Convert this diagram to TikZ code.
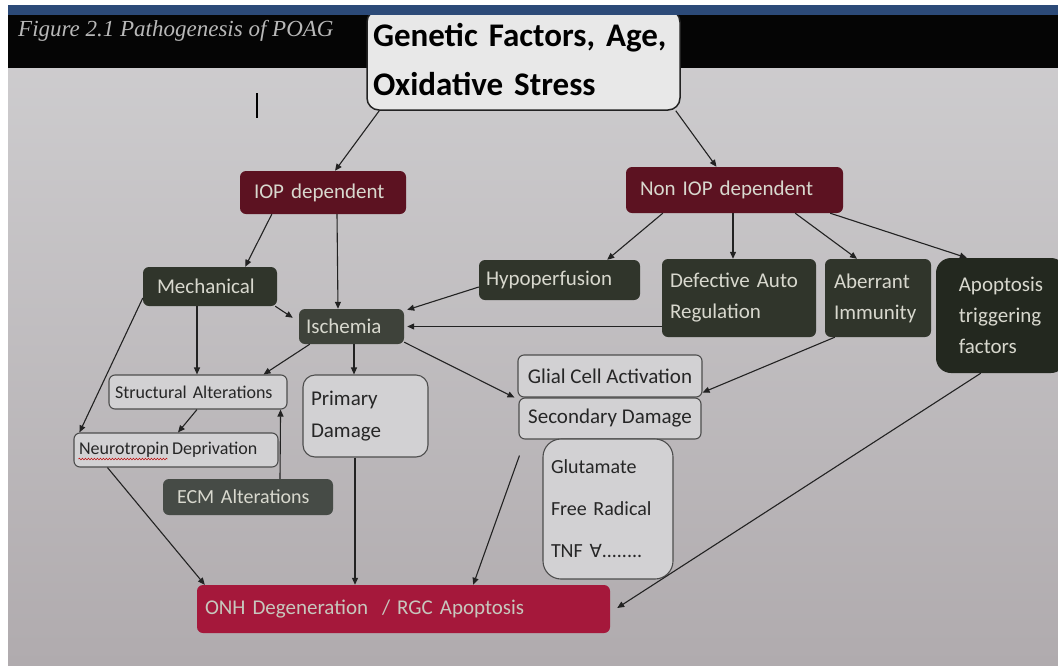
\documentclass[tikz,border=0pt]{standalone}
\usepackage{fontspec}
\setmainfont{Carlito}
\newfontfamily\captfont{Liberation Serif}
\newfontfamily\symfnt{DejaVu Sans}
\usetikzlibrary{arrows.meta,decorations.pathmorphing}
\definecolor{bgtop}{HTML}{D0CFD1}
\definecolor{bgbot}{HTML}{B0ABAE}
\definecolor{dred}{HTML}{5C1221}
\definecolor{olive}{HTML}{30352B}
\definecolor{olivedk}{HTML}{23281F}
\definecolor{olivelt}{HTML}{464B46}
\definecolor{crim}{HTML}{A5183B}
\definecolor{ltxt}{HTML}{D8D8CE}
\definecolor{wfill}{HTML}{D2D1D3}
\definecolor{wline}{HTML}{4D4D4D}
\definecolor{lne}{HTML}{222222}
\definecolor{bluestrip}{HTML}{2C4A78}
\newcommand{\myfs}[2]{\fontsize{#1}{#2}\selectfont}
\tikzset{
  dbox/.style={rounded corners=6pt, text=ltxt, font=\myfs{21}{31}},
  redbox/.style={dbox, fill=dred},
  grbox/.style={dbox, fill=olive},
  wbox/.style={rounded corners=6pt, draw=wline, line width=1.1pt, fill=wfill, text=black!85, font=\myfs{21}{31}},
  tx/.style 2 args={text width=#1, inner xsep=#2, align=left},
  arr/.style={draw=lne, line width=1.1pt, -{Triangle[length=7pt,width=6pt]}}
}
\begin{document}
\begin{tikzpicture}[x=1pt,y=-1pt]
\useasboundingbox (0,0) rectangle (1058,665);
\fill[white] (0,0) rectangle (1058,665);
\shade[top color=bgtop, bottom color=bgbot] (8,5) rectangle (1058,665);
\fill[black!98] (8,15) rectangle (1058,68);
\node[anchor=west, text=black!28, font=\captfont\itshape\myfs{23}{23}, inner sep=0pt] (cap) at (18,31) {Figure 2.1 Pathogenesis of POAG};
% top box
\node[draw=lne, line width=1.5pt, fill=black!9, rounded corners=12pt, minimum height=100pt, tx={301pt}{6pt}, font=\bfseries\myfs{33}{49}] (top) at (523.5,60) {Genetic Factors, Age,\\Oxidative Stress};
\fill[bluestrip] (8,5) rectangle (1058,15);
\draw[line width=2pt, black] (257,93) -- (257,118);
% second level
\node[redbox, minimum height=43pt, tx={138pt}{14pt}] (iop) at (323,192.5) {IOP dependent};
\node[redbox, minimum height=46pt, tx={189pt}{14pt}] (non) at (734.5,190) {Non IOP dependent};
% third level
\node[grbox, minimum height=39pt, tx={106pt}{14pt}] (mech) at (210,286.5) {Mechanical};
\node[grbox, fill=olive!85!black!90!white, minimum height=35pt, tx={91pt}{7pt}] (isch) at (351.5,326.5) {Ischemia};
\node[grbox, minimum height=40pt, tx={147pt}{7pt}] (hypo) at (559.5,280) {Hypoperfusion};
\node[grbox, minimum height=78pt, tx={138pt}{8pt}] (defr) at (739,298) {Defective Auto\\Regulation};
\node[grbox, minimum height=78pt, tx={88pt}{9pt}] (aber) at (878,298) {Aberrant\\Immunity};
\node[grbox, fill=olivedk, rounded corners=15pt, minimum height=115pt, minimum width=130pt, align=left] (apop) at (1001,315.5) {Apoptosis\\triggering\\factors};
% fourth level
\node[wbox, font=\myfs{18}{22}, minimum height=34pt, tx={166pt}{6pt}] (struct) at (198,392) {Structural Alterations};
\node[wbox, rounded corners=12pt, minimum height=82pt, tx={109pt}{8pt}, font=\myfs{21}{32}] (prim) at (365.5,416) {Primary\\Damage};
\node[wbox, font=\myfs{18}{22}, minimum height=34pt, tx={194pt}{5pt}] (neuro) at (176,450) {Neurotropin\,Deprivation};
\node[grbox, fill=olivelt, font=\myfs{20}{24}, minimum height=36pt, tx={142pt}{14pt}] (ecm) at (248,497) {ECM Alterations};
\node[wbox, minimum width=184pt, minimum height=42pt] (glial) at (610,376) {Glial Cell Activation};
\node[wbox, minimum width=182pt, minimum height=41pt] (sec) at (610,418.5) {Secondary Damage};
\node[wbox, rounded corners=18pt, minimum height=140pt, tx={114pt}{8pt}, font=\myfs{20}{42}] (glut) at (608,509) {Glutamate\\Free Radical\\TNF {\symfnt\myfs{18}{42}\char"2200}........};
\node[dbox, fill=crim, text=black!8!ltxt, font=\myfs{21}{25}, minimum height=48pt, tx={397pt}{8pt}] (onh) at (403.5,609) {ONH Degeneration \ / RGC Apoptosis};
% squiggle
\draw[red!75!black, line width=0.5pt, decorate, decoration={snake, amplitude=0.8pt, segment length=3pt}] ([xshift=5pt,yshift=-9pt]neuro.west) -- ++(89,0);
% arrows
\draw[arr] ([xshift=13pt]top.south west) -- ([xshift=12pt]iop.north);
\draw[arr] ([xshift=-5pt]top.south east) -- ([xshift=-18pt]non.north);
\draw[arr] ([xshift=32pt]iop.south west) -- ([xshift=-32pt]mech.north east);
\draw[arr] ([xshift=14pt]iop.south) -- ([xshift=-13.5pt]isch.north);
\draw[arr] ([xshift=-2pt]mech.south east) -- ([xshift=-6pt,yshift=-9pt]isch.north west);
\draw[arr] ([yshift=-7pt]hypo.west) -- ([xshift=3pt,yshift=-1pt]isch.north east);
\draw[arr] ([yshift=-28.5pt]defr.west) -- ([xshift=3pt]isch.east);
\draw[arr] ([xshift=37pt]non.south west) -- ([xshift=-33pt]hypo.north east);
\draw[arr] ([xshift=-1.5pt]non.south) -- ([xshift=-6pt]defr.north);
\draw[arr] ([xshift=-48pt]non.south east) -- ([xshift=-21pt]aber.north);
\draw[arr] ([xshift=-13pt]non.south east) -- ([xshift=31pt]apop.north west);
\draw[arr] ([xshift=-13pt]mech.south) -- ([xshift=-1pt]struct.north);
\draw[arr] ([yshift=-11.5pt]mech.west) -- ([xshift=6pt]neuro.north west);
\draw[arr] ([xshift=11pt]isch.south west) -- ([xshift=-24pt]struct.north east);
\draw[arr] ([xshift=2.5pt]isch.south) -- ([xshift=-11.5pt]prim.north);
\draw[arr] ([yshift=2pt]isch.south east) -- ([xshift=-3pt]glial.south west);
\draw[arr] ([xshift=10pt]aber.south west) -- ([yshift=5pt]glial.south east);
\draw[arr] ([xshift=-1pt]struct.south) -- ([xshift=2pt]neuro.north);
\draw[arr] ([xshift=32pt]ecm.north) -- ([xshift=-7pt]struct.south east);
\draw[arr] ([xshift=34pt]neuro.south west) -- ([xshift=8pt]onh.north west);
\draw[arr] ([xshift=-10.5pt]prim.south) -- ([xshift=-48.5pt]onh.north);
\draw[arr] ([xshift=1pt,yshift=-16pt]sec.south west) -- ([xshift=-137pt]onh.north east);
\draw[arr] ([xshift=45pt]apop.south west) -- ([xshift=7pt,yshift=1pt]onh.east);
\end{tikzpicture}
\end{document}
